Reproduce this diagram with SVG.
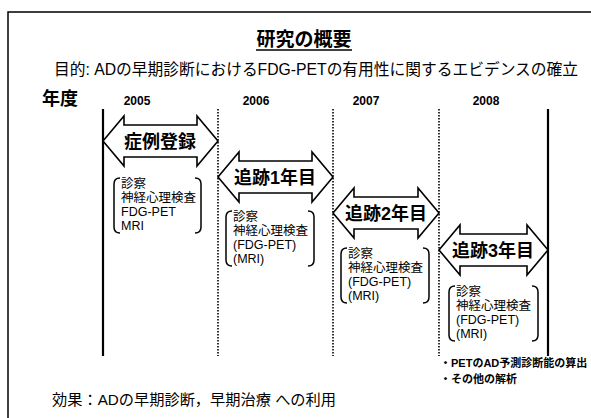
<svg xmlns="http://www.w3.org/2000/svg" width="591" height="418" viewBox="0 0 591 418">
<style>
text{font-family:"Liberation Sans","Noto Sans CJK JP",sans-serif;fill:#000}
.t{font-size:19px;font-weight:bold}
.sub{font-size:16px}
.yr{font-size:12px;font-weight:bold}
.ar{fill:#fff;stroke:#000;stroke-width:1.6;stroke-linejoin:miter}
.al{font-size:18px;font-weight:bold;text-anchor:middle}
.br{fill:none;stroke:#000;stroke-width:1.5}
.bx{font-size:12.5px}
.solid{stroke:#000;stroke-width:2.2}
.dot{stroke:#000;stroke-width:1.6;stroke-dasharray:1.5 1.5}
.note{font-size:11px;font-weight:bold}
.eff{font-size:15px}
</style>
<g id="frame"><path d="M8,418 V12 H591" fill="none" stroke="#000" stroke-width="1.5"/></g>
<g id="title">
<text class="t" x="304" y="46" text-anchor="middle">研究の概要</text>
<line x1="256" y1="50" x2="352" y2="50" stroke="#000" stroke-width="1.3"/>
</g>
<g id="purpose"><text class="sub" x="54" y="75" textLength="524" lengthAdjust="spacingAndGlyphs">目的: ADの早期診断におけるFDG-PETの有用性に関するエビデンスの確立</text></g>
<g id="years">
<text x="42" y="105" style="font-size:18px;font-weight:bold">年度</text>
<text class="yr" x="137" y="105" text-anchor="middle">2005</text>
<text class="yr" x="256" y="105" text-anchor="middle">2006</text>
<text class="yr" x="366" y="105" text-anchor="middle">2007</text>
<text class="yr" x="486" y="105" text-anchor="middle">2008</text>
</g>
<g id="connectors">
<line class="solid" x1="103" y1="109" x2="103" y2="356"/>
<line class="dot" x1="218" y1="109" x2="218" y2="356"/>
<line class="dot" x1="333" y1="109" x2="333" y2="356"/>
<line class="dot" x1="439" y1="109" x2="439" y2="356"/>
<line class="solid" x1="548" y1="109" x2="548" y2="356"/>
</g>
<g id="arrow1">
<polygon class="ar" points="103,141 124,116 124,125 197,125 197,116 218,141 197,166 197,157 124,157 124,166"/>
<text class="al" x="160" y="148">症例登録</text>
</g>
<g id="arrow2">
<polygon class="ar" points="218,177 239,152 239,161 312,161 312,152 333,177 312,202 312,193 239,193 239,202"/>
<text class="al" x="275" y="184">追跡1年目</text>
</g>
<g id="arrow3">
<polygon class="ar" points="333,213 354,188 354,197 418,197 418,188 439,213 418,238 418,229 354,229 354,238"/>
<text class="al" x="386" y="220">追跡2年目</text>
</g>
<g id="arrow4">
<polygon class="ar" points="439,250 460,225 460,234 527,234 527,225 548,250 527,275 527,266 460,266 460,275"/>
<text class="al" x="493" y="257">追跡3年目</text>
</g>
<g id="box1">
<path class="br" d="M120,178 Q114,178 114,184 V227 Q114,233 120,233 M195,178 Q201,178 201,184 V227 Q201,233 195,233"/>
<text class="bx" x="121" y="188">診察</text>
<text class="bx" x="121" y="202">神経心理検査</text>
<text class="bx" x="121" y="216">FDG-PET</text>
<text class="bx" x="121" y="230">MRI</text>
</g>
<g id="box2">
<path class="br" d="M232,211 Q226,211 226,217 V260 Q226,266 232,266 M308,211 Q314,211 314,217 V260 Q314,266 308,266"/>
<text class="bx" x="233" y="221">診察</text>
<text class="bx" x="233" y="235">神経心理検査</text>
<text class="bx" x="233" y="249">(FDG-PET)</text>
<text class="bx" x="233" y="263">(MRI)</text>
</g>
<g id="box3">
<path class="br" d="M347,248 Q341,248 341,254 V297 Q341,303 347,303 M423,248 Q429,248 429,254 V297 Q429,303 423,303"/>
<text class="bx" x="348" y="258">診察</text>
<text class="bx" x="348" y="272">神経心理検査</text>
<text class="bx" x="348" y="286">(FDG-PET)</text>
<text class="bx" x="348" y="300">(MRI)</text>
</g>
<g id="box4">
<path class="br" d="M455,286 Q449,286 449,292 V335 Q449,341 455,341 M532,286 Q538,286 538,292 V335 Q538,341 532,341"/>
<text class="bx" x="456" y="296">診察</text>
<text class="bx" x="456" y="310">神経心理検査</text>
<text class="bx" x="456" y="324">(FDG-PET)</text>
<text class="bx" x="456" y="338">(MRI)</text>
</g>
<g id="notes">
<text class="note" x="440" y="367">・PETのAD予測診断能の算出</text>
<text class="note" x="440" y="383">・その他の解析</text>
</g>
<g id="effect"><text class="eff" x="52" y="405" textLength="284" lengthAdjust="spacingAndGlyphs">効果：ADの早期診断，早期治療 への利用</text></g>
</svg>
